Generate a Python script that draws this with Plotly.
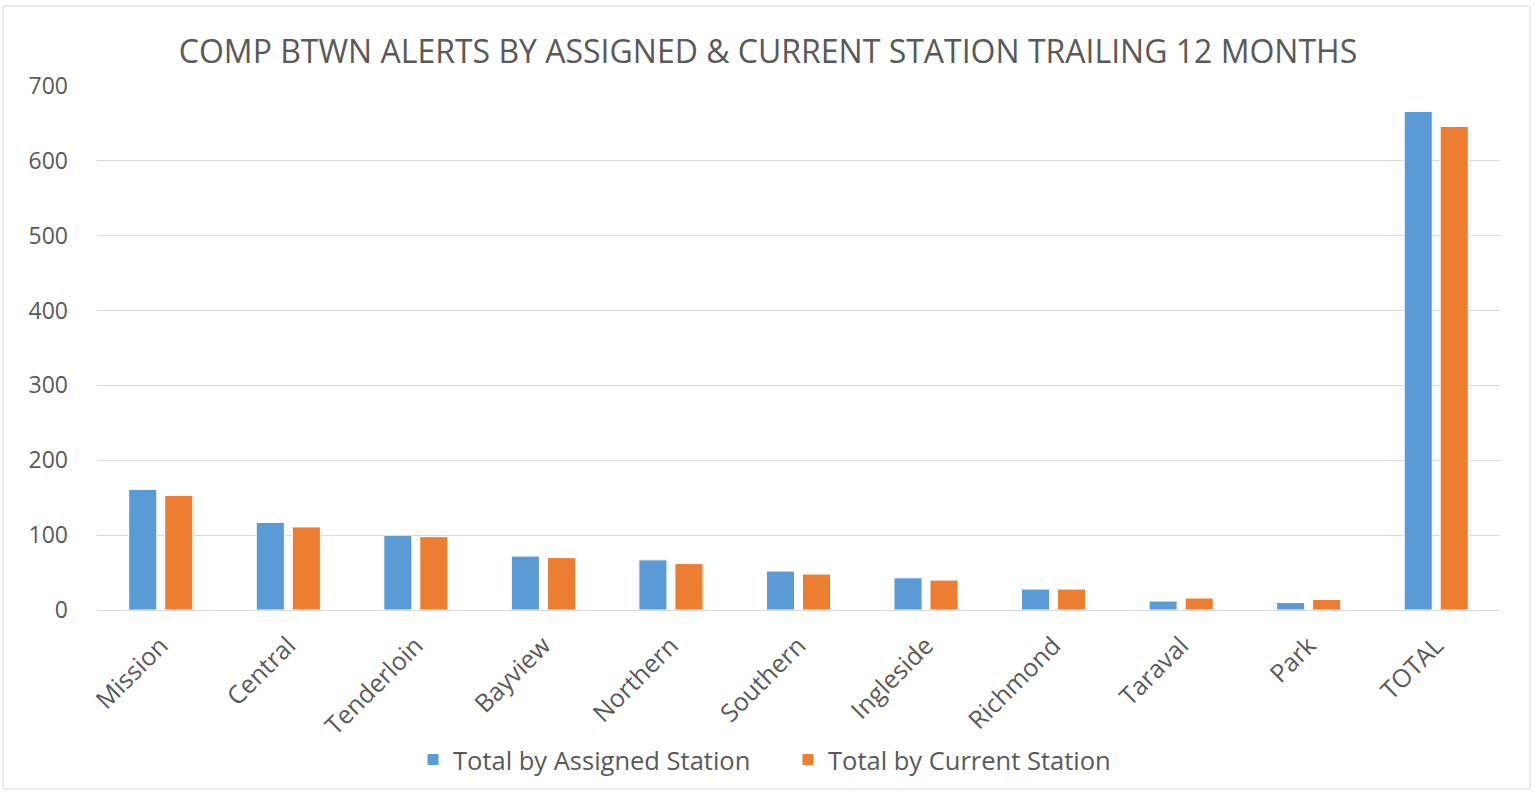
import plotly.graph_objects as go

categories = ["Mission", "Central", "Tenderloin", "Bayview", "Northern", "Southern",
              "Ingleside", "Richmond", "Taraval", "Park", "TOTAL"]
assigned = [161, 117, 100, 72, 67, 52, 43, 28, 12, 10, 666]
current = [153, 111, 98, 70, 62, 48, 40, 28, 16, 14, 646]
y_ticks = [0, 100, 200, 300, 400, 500, 600, 700]

W, H = 1535, 793
L, R, T, B = 97, 35, 86, 183
pw, ph = W - L - R, H - T - B

font_fam = "Open Sans, Noto Sans, sans-serif"
txt = "#595959"

fig = go.Figure()
fig.add_trace(go.Bar(x=categories, y=assigned, name="Total by Assigned Station",
                     marker=dict(color="#5B9BD5", line=dict(color="white", width=1))))
fig.add_trace(go.Bar(x=categories, y=current, name="Total by Current Station",
                     marker=dict(color="#ED7D31", line=dict(color="white", width=1))))

fig.update_layout(
    width=W, height=H,
    margin=dict(l=L, r=R, t=T, b=B, autoexpand=False),
    paper_bgcolor="white", plot_bgcolor="white",
    barmode="group", bargap=0.435, bargroupgap=0.22,
    font=dict(family=font_fam, color=txt),
    title=dict(text="COMP BTWN ALERTS BY ASSIGNED &amp; CURRENT STATION TRAILING 12 MONTHS",
               x=(768 - L) / pw, xref="paper", xanchor="center",
               y=1 - 52 / H, yref="container", yanchor="middle",
               font=dict(size=32, color=txt, family=font_fam)),
    xaxis=dict(tickangle=-45, tickfont=dict(size=25, color=txt), showline=True,
               linecolor="#D9D9D9", linewidth=1, ticks="", ticklabelstandoff=10),
    yaxis=dict(range=[0, 700], tickvals=y_ticks, showgrid=True, gridcolor="#D9D9D9",
               gridwidth=1, zeroline=False, tickfont=dict(size=23, color=txt),
               ticks="", ticklabelstandoff=28),
    legend=dict(orientation="h", x=(788 - L) / pw, xanchor="center",
                y=-(760 - T - ph) / ph, yanchor="middle",
                font=dict(size=25.5, color=txt), itemwidth=30, traceorder="normal",
                entrywidth=330, entrywidthmode="pixels"),
    shapes=[dict(type="rect", xref="paper", yref="paper",
                 x0=(3 - L) / pw, x1=(1530 - L) / pw,
                 y0=1 - (789 - T) / ph, y1=1 + (T - 6) / ph,
                 line=dict(color="#D9D9D9", width=1), fillcolor="rgba(0,0,0,0)")],
)

fig.write_html("out.html", config={"displayModeBar": False},
               post_script="document.body.style.margin='0';")
